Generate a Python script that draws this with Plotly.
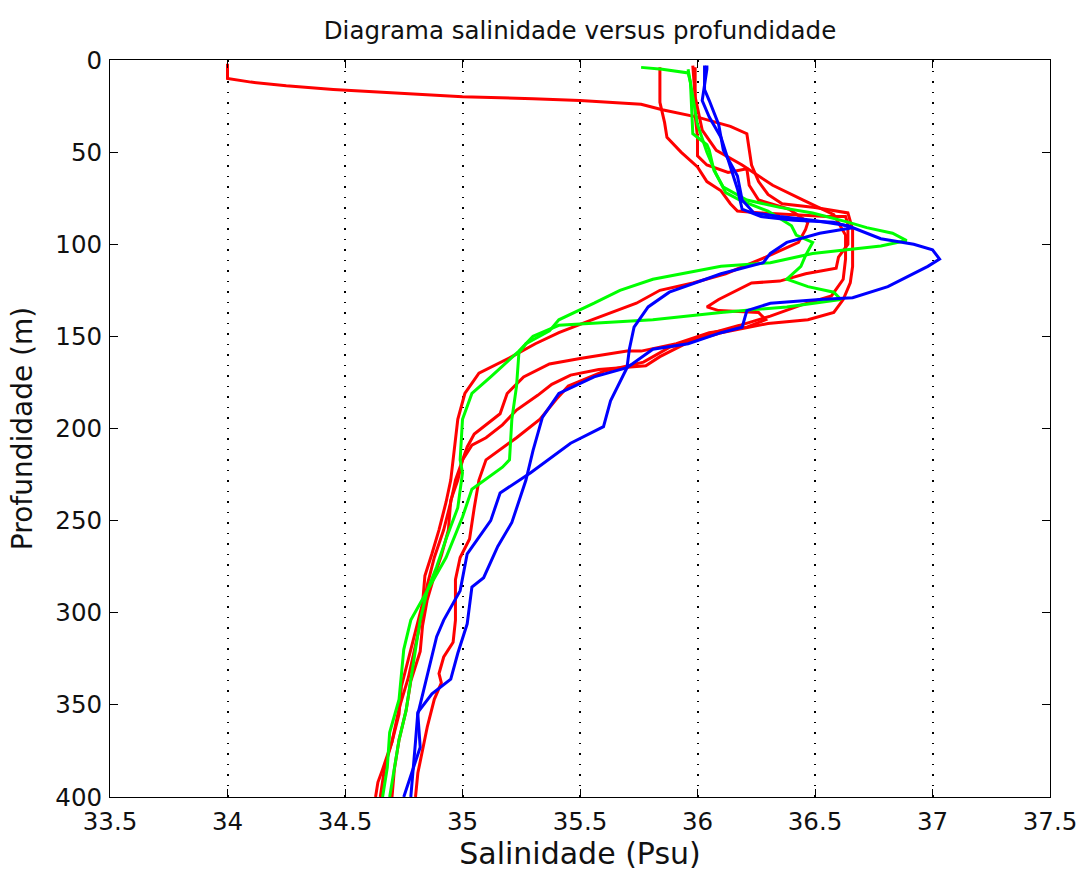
import plotly.graph_objects as go

# ---- data: salinity (psu) and depth (m) per profile ----
r1_s = [34.00, 34.00, 34.10, 34.25, 34.45, 34.70, 35.00, 35.30, 35.50, 35.76, 35.85, 36.00, 36.14, 36.21, 36.22, 36.23,
        36.26, 36.30, 36.36, 36.50, 36.64, 36.66, 36.66, 36.65, 36.62, 36.58, 36.47, 36.30, 36.10, 35.88, 35.77, 35.60,
        35.45, 35.40, 35.33, 35.23, 35.10, 35.07, 35.05, 35.03, 34.99, 34.97, 34.97, 34.96, 34.92, 34.90, 34.91, 34.88,
        34.85, 34.83, 34.81, 34.80]
r1_d = [2, 10, 12, 14, 16, 18, 20, 21, 22, 24, 27, 31, 36, 40, 50, 57,
        66, 73, 78, 80, 83, 92, 112, 121, 130, 137, 141, 143, 148, 156, 164, 169,
        177, 184, 195, 205, 217, 228, 243, 260, 270, 282, 304, 316, 324, 333, 338, 347,
        362, 375, 387, 400]

r2_s = [35.84, 35.84, 35.86, 35.87, 35.93, 36.00, 36.04, 36.10, 36.14, 36.17, 36.27, 36.55, 36.63, 36.64, 36.64, 36.60,
        36.59, 36.46, 36.35, 36.23, 36.09, 36.04, 36.09, 36.26, 36.29, 36.21, 36.05, 35.91, 35.76, 35.70, 35.50, 35.37,
        35.26, 35.19, 35.16, 35.05, 35.02, 35.00, 34.97, 34.95, 34.92, 34.88, 34.85, 34.83, 34.80, 34.77, 34.73, 34.70,
        34.66, 34.64, 34.63]
r2_d = [4, 23, 34, 42, 50, 58, 66, 71, 78, 82, 83, 85, 85, 89, 100, 107,
        113, 116, 120, 121, 130, 134, 136, 137, 141, 145, 148, 154, 158, 158, 162, 165,
        172, 181, 192, 203, 210, 217, 228, 240, 255, 270, 285, 300, 318, 335, 352, 370,
        385, 392, 400]

r3_s = [35.99, 35.99, 36.00, 36.00, 36.04, 36.13, 36.21, 36.22, 36.26, 36.39, 36.47, 36.46, 36.43, 36.29, 36.12, 35.98,
        35.84, 35.74, 35.55, 35.41, 35.31, 35.21, 35.07, 35.01, 34.98, 34.96, 34.95, 34.93, 34.90, 34.87, 34.84, 34.83,
        34.80, 34.77, 34.74, 34.73, 34.70, 34.67, 34.66, 34.65]
r3_d = [4, 30, 42, 52, 57, 61, 59, 68, 76, 81, 88, 92, 99, 107, 116, 121,
        125, 132, 141, 148, 154, 161, 170, 181, 195, 215, 228, 240, 255, 268, 280, 295,
        310, 325, 340, 355, 370, 383, 392, 400]

r4_s = [35.98, 35.99, 36.02, 36.08, 36.19, 36.32, 36.45, 36.58, 36.63, 36.63, 36.62, 36.57, 36.44, 36.31, 36.18, 36.01,
        35.84, 35.78, 35.58, 35.46, 35.38, 35.32, 35.23, 35.17, 35.10, 35.04, 35.00, 34.98, 34.95, 34.94, 34.91, 34.88,
        34.85, 34.83, 34.82, 34.78, 34.76, 34.73, 34.71, 34.70]
r4_d = [3, 20, 38, 49, 57, 68, 76, 84, 95, 108, 119, 128, 133, 139, 144, 150,
        161, 166, 168, 171, 176, 182, 190, 198, 205, 209, 217, 228, 239, 255, 269, 280,
        293, 307, 321, 337, 353, 369, 385, 400]

g1_s = [35.76, 35.85, 35.96, 35.97, 35.98, 36.04, 36.05, 36.07, 36.11, 36.21, 36.35, 36.49, 36.64, 36.72, 36.83, 36.89,
        36.78, 36.64, 36.49, 36.31, 36.10, 35.81, 35.67, 35.56, 35.41, 35.37, 35.27, 35.24, 35.23, 35.21, 35.20, 35.17,
        35.04, 35.00, 34.93, 34.85, 34.78, 34.75, 34.73, 34.69, 34.68, 34.66]
g1_d = [4, 5, 7, 12, 40, 46, 49, 60, 69, 76, 80, 83, 88, 91, 94, 98,
        101, 103, 105, 110, 112, 119, 125, 132, 141, 147, 154, 159, 177, 195, 217, 221,
        233, 248, 270, 288, 304, 320, 347, 365, 384, 400]

g2_s = [35.96, 35.98, 36.00, 36.04, 36.08, 36.12, 36.18, 36.30, 36.40, 36.42, 36.49, 36.46, 36.44, 36.38, 36.47, 36.58,
        36.61, 36.38, 36.10, 35.81, 35.56, 35.41, 35.30, 35.24, 35.12, 35.04, 35.00, 34.99, 35.00, 34.98, 34.93, 34.89,
        34.85, 34.82, 34.80, 34.78, 34.76, 34.73, 34.71, 34.69]
g2_d = [5, 20, 35, 50, 62, 72, 76, 82, 90, 95, 99, 106, 112, 119, 123, 126,
        130, 134, 137, 141, 143, 144, 150, 158, 172, 181, 195, 217, 224, 243, 260, 275,
        288, 304, 320, 336, 353, 369, 385, 400]

b1_s = [36.03, 36.03, 36.05, 36.09, 36.11, 36.17, 36.19, 36.24, 36.35, 36.49, 36.64, 36.78, 36.92, 37.00, 37.03, 36.98,
        36.81, 36.66, 36.52, 36.31, 36.21, 36.19, 36.10, 35.96, 35.81, 35.70, 35.56, 35.41, 35.34, 35.30, 35.27, 35.23,
        35.21, 35.15, 35.09, 35.04, 35.02, 34.98, 34.95, 34.87, 34.81, 34.80, 34.79, 34.78]
b1_d = [3, 16, 22, 35, 49, 63, 76, 83, 85, 87, 90, 97, 100, 103, 108, 112,
        123, 129, 130, 132, 136, 145, 148, 154, 157, 167, 172, 181, 194, 212, 228, 243,
        251, 264, 281, 286, 306, 322, 336, 344, 354, 370, 385, 400]

b2_s = [36.04, 36.04, 36.02, 36.05, 36.10, 36.14, 36.17, 36.19, 36.27, 36.41, 36.58, 36.66, 36.52, 36.38, 36.31, 36.28,
        36.10, 35.88, 35.79, 35.73, 35.71, 35.70, 35.63, 35.60, 35.46, 35.29, 35.16, 35.12, 35.02, 34.99, 34.92, 34.89,
        34.86, 34.83, 34.81, 34.82, 34.75]
b2_d = [3, 5, 22, 31, 42, 58, 70, 81, 85, 87, 88, 91, 94, 99, 105, 110,
        116, 126, 134, 145, 157, 167, 185, 199, 208, 224, 235, 250, 268, 288, 304, 313,
        329, 346, 355, 373, 400]

x_ticks = [33.5, 34, 34.5, 35, 35.5, 36, 36.5, 37, 37.5]
y_ticks = [0, 50, 100, 150, 200, 250, 300, 350, 400]

profiles = [
    (r1_s, r1_d, "#ff0000"), (r2_s, r2_d, "#ff0000"), (r3_s, r3_d, "#ff0000"), (r4_s, r4_d, "#ff0000"),
    (g1_s, g1_d, "#00ff00"), (g2_s, g2_d, "#00ff00"),
    (b1_s, b1_d, "#0000ff"), (b2_s, b2_d, "#0000ff"),
]

fig = go.Figure()
for s, d, c in profiles:
    fig.add_trace(go.Scatter(x=s, y=d, mode="lines", line=dict(color=c, width=3), showlegend=False))

font_family = "DejaVu Sans, sans-serif"
fs = 24.5
fig.update_layout(
    width=1078, height=874,
    margin=dict(l=110, r=28, t=60, b=77),
    paper_bgcolor="white", plot_bgcolor="white",
    font=dict(family=font_family, size=fs, color="#111111"),
    title=dict(text="Diagrama salinidade versus profundidade", x=0.5, xref="paper",
               y=1 - 30 / 874, yref="container", yanchor="middle",
               font=dict(size=fs, color="#111111")),
)
fig.update_xaxes(
    range=[33.5, 37.5], tickvals=x_ticks, ticktext=[str(v) for v in x_ticks],
    showline=True, linecolor="black", linewidth=1, mirror="ticks",
    ticks="inside", ticklen=8, tickcolor="black", ticklabelstandoff=3,
    showgrid=True, gridcolor="black", griddash="1.5px,9px", gridwidth=1.5,
    zeroline=False, automargin=False,
    title=dict(text="Salinidade (Psu)", standoff=4, font=dict(size=30)),
)
fig.update_yaxes(
    range=[400, 0], tickvals=y_ticks,
    showline=True, linecolor="black", linewidth=1, mirror="ticks",
    ticks="inside", ticklen=8, tickcolor="black", ticklabelstandoff=2,
    showgrid=False, zeroline=False, automargin=False,
    title=dict(text="Profundidade (m)", standoff=14, font=dict(size=28)),
)
fig.write_html("out.html")
